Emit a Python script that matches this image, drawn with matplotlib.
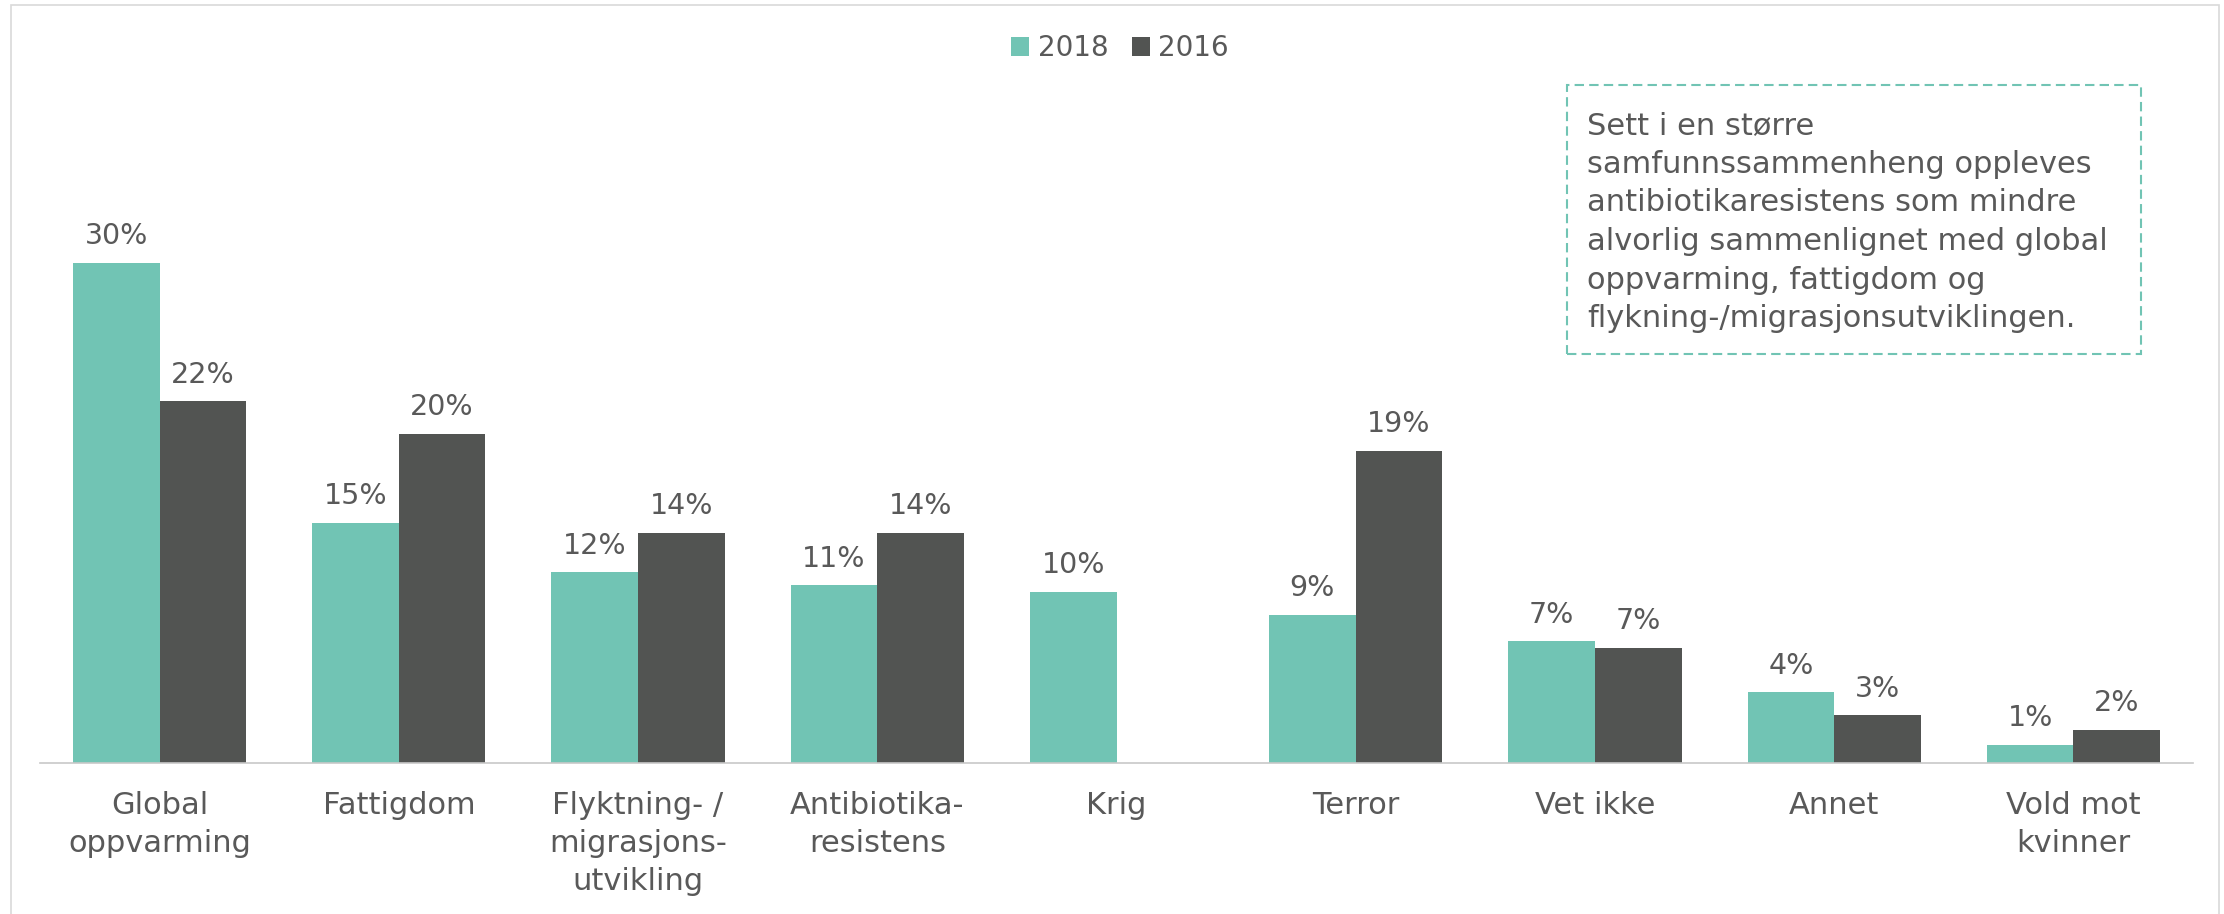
import numpy as np
import matplotlib
matplotlib.use('Agg')
import matplotlib.pyplot as plt
from matplotlib.patches import Rectangle

# Data
categories = ['Global\noppvarming', 'Fattigdom', 'Flyktning- /\nmigrasjons-\nutvikling',
              'Antibiotika-\nresistens', 'Krig', 'Terror', 'Vet ikke', 'Annet', 'Vold mot\nkvinner']
values_2018 = [30.4, 14.6, 11.6, 10.8, 10.4, 9.0, 7.4, 4.3, 1.1]
values_2016 = [22.0, 20.0, 14.0, 14.0, np.nan, 19.0, 7.0, 2.9, 2.0]
series_names = ['2018', '2016']
note = ('Sett i en større\nsamfunnssammenheng oppleves\nantibiotikaresistens som mindre\n'
        'alvorlig sammenlignet med global\noppvarming, fattigdom og\nflykning-/migrasjonsutviklingen.')

TEAL = '#71C4B4'
DARK = '#525452'
TEXT = '#595959'

W, H = 2224, 914
fig = plt.figure(figsize=(W / 100, H / 100), dpi=100)
plt.rcParams['font.family'] = ['DejaVu Sans']

# Axes placement (pixels -> figure fraction)
ax_left, ax_right, ax_bottom, ax_top = 40, 2193, 763, 60
ax = fig.add_axes([ax_left / W, 1 - ax_bottom / H, (ax_right - ax_left) / W, (ax_bottom - ax_top) / H])
px_per_pct = 16.44
ax.set_ylim(0, (ax_bottom - ax_top) / px_per_pct)
ax.set_xlim(-0.5, len(categories) - 0.5)

x = np.arange(len(categories))
bw = 0.362
bars18 = ax.bar(x - bw / 2, values_2018, bw, color=TEAL, label=series_names[0])
bars16 = ax.bar(x + bw / 2, values_2016, bw, color=DARK, label=series_names[1])

# Value labels
for bars, vals in ((bars18, values_2018), (bars16, values_2016)):
    for b, v in zip(bars, vals):
        if np.isnan(v):
            continue
        ax.annotate(f'{int(round(v))}%', (b.get_x() + b.get_width() / 2, v),
                    xytext=(0, 13.5), textcoords='offset points',
                    ha='center', va='baseline', fontsize=20.5, color=TEXT)

# Axes styling
for s in ['top', 'right', 'left']:
    ax.spines[s].set_visible(False)
ax.spines['bottom'].set_color('#C8C8C8')
ax.spines['bottom'].set_linewidth(1.2)
ax.set_yticks([])
ax.set_xticks(x)
ax.set_xticklabels(categories, fontsize=22, color=TEXT, linespacing=1.4)
ax.tick_params(axis='x', length=0, pad=20)

# Legend
fig.legend(handles=[bars18, bars16], loc='center', bbox_to_anchor=(1120 / W, 1 - 48 / H),
           ncol=2, frameon=False, fontsize=20, labelcolor=TEXT,
           handlelength=0.65, handleheight=0.7, handletextpad=0.3, columnspacing=0.85)

# Note box
bx0, bx1, by0, by1 = 1567, 2141, 85, 354
fig.patches.append(Rectangle((bx0 / W, 1 - by1 / H), (bx1 - bx0) / W, (by1 - by0) / H,
                             transform=fig.transFigure, fill=False, edgecolor=TEAL,
                             linewidth=1.5, linestyle=(0, (4.5, 2.5))))
fig.text(1587 / W, 1 - 111 / H, note, ha='left', va='top', fontsize=22, color=TEXT, linespacing=1.42)

# Outer chart border
fig.patches.append(Rectangle((11 / W, -0.01), (2219 - 11) / W, 1.01 - 5 / H,
                             transform=fig.transFigure, fill=False, edgecolor='#D9D9D9', linewidth=1.2))

fig.savefig('out.png', dpi=100)
